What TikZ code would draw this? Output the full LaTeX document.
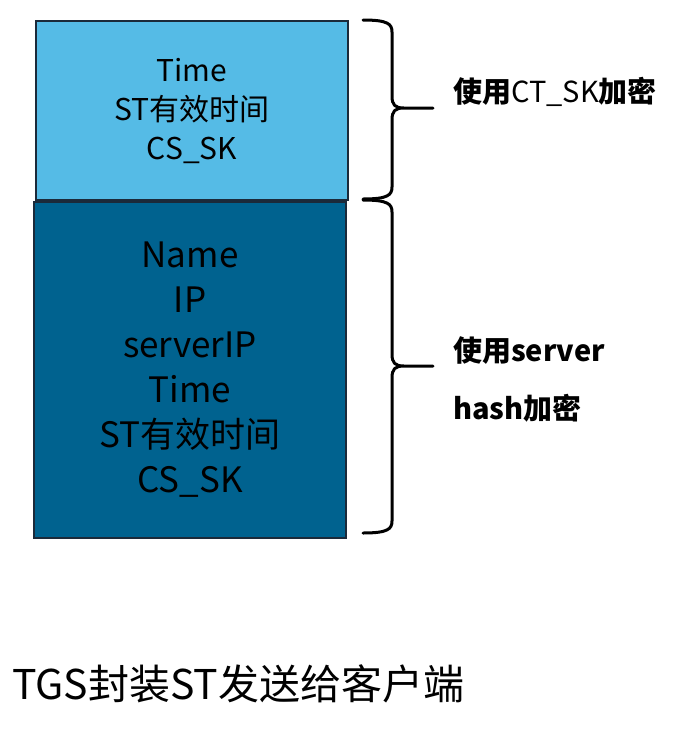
\documentclass[tikz,border=0pt]{standalone}
\usepackage{fontspec}
\setmainfont{Noto Sans CJK SC}
\definecolor{chiaro}{HTML}{55BBE6}
\definecolor{scuro}{HTML}{00628F}
\definecolor{bordo}{HTML}{1B2A3A}
\begin{document}
\begin{tikzpicture}[x=1pt, y=-1pt]
    % Definizione stili
    \tikzset{
        campo/.style={rectangle, draw=bordo, line width=1.5pt,
                     text=black, align=center, inner sep=0pt},
        graffa/.style={line width=3pt, line cap=round, line join=round},
        nota/.style={anchor=west, align=left, inner sep=0pt,
                     font=\fontsize{29}{58}\selectfont\bfseries}
    }
    \useasboundingbox (0,0) rectangle (678,732);

    % Parte esterna
    \node[campo, fill=scuro, minimum width=312pt, minimum height=336pt,
          font=\fontsize{35}{45}\selectfont] (interno) at (190,370)
        {Name\\IP\\serverIP\\Time\\ST有效时间\\CS\_SK};

    % Parte interna
    \node[campo, fill=chiaro, minimum width=312pt, minimum height=179pt,
          font=\fontsize{30}{39}\selectfont] (esterno) at (192,110.5)
        {Time\\ST有效时间\\CS\_SK};

    % Graffe
    \draw[graffa] (363,20) .. controls (388,20) and (392,24) .. (392,32)
        -- (392,96) .. controls (392,105) and (395,108) .. (404,108) -- (433,108)
        (404,108) .. controls (395,108) and (392,111) .. (392,120)
        -- (392,187) .. controls (392,195) and (388,199) .. (363,199);
    \draw[graffa] (363,200) .. controls (388,200) and (392,204) .. (392,212)
        -- (392,354) .. controls (392,363) and (395,366) .. (404,366) -- (433,366)
        (404,366) .. controls (395,366) and (392,369) .. (392,378)
        -- (392,521) .. controls (392,529) and (388,533) .. (363,533);

    % Spiegazioni
    \node[nota] (chiave1) at (453,92) {使用{\mdseries CT\_SK}加密};
    \node[nota] (chiave2) at (453,379) {使用server\\hash加密};

    % Didascalia
    \node[anchor=west, inner sep=0pt, font=\fontsize{41}{48}\selectfont]
        (titolo) at (12,684) {TGS封装ST发送给客户端};
\end{tikzpicture}
\end{document}
